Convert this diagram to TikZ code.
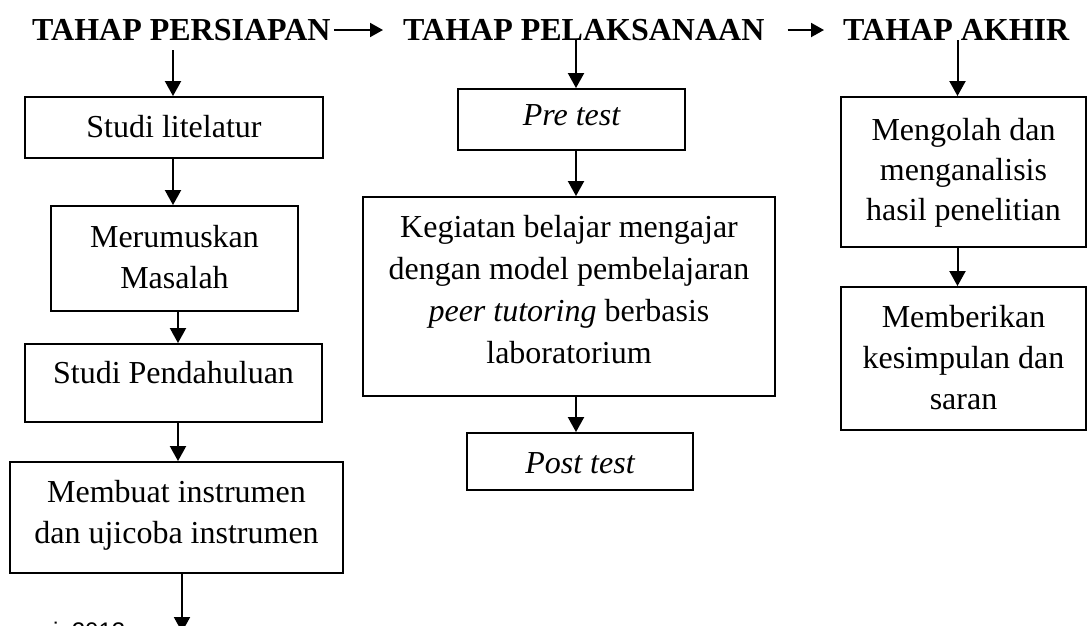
\documentclass[tikz,border=0pt]{standalone}
\usepackage{fontspec}
\setmainfont{Liberation Serif}
\newfontfamily\capfont{Liberation Sans}
\usetikzlibrary{arrows.meta}
\tikzset{
  box/.style={draw=black, line width=1.9pt, rectangle, inner sep=0pt, fill=white},
  txt/.style={anchor=base, inner sep=0pt, align=center, font=\fontsize{32}{41}\selectfont},
  head/.style={anchor=base west, inner sep=0pt, text height=20pt, text depth=0pt, font=\fontsize{32}{40}\selectfont\bfseries},
  arr/.style={line width=2pt, -{Triangle[length=15pt,width=16pt]}}
}
\begin{document}
\begin{tikzpicture}[x=1pt,y=-1pt]
\useasboundingbox (0,0) rectangle (1087,625);
\fill[white] (0,0) rectangle (1087,625);
% headings
\node[head] (h1) at (32,40) {TAHAP PERSIAPAN};
\node[head] (h2) at (403,40) {TAHAP PELAKSANAAN};
\node[head] (h3) at (843,40) {TAHAP AKHIR};
\draw[arr, -{Triangle[length=13pt,width=14pt]}, shorten <=3pt, shorten >=20pt] (h1.east) -- (h2.west);
\draw[arr, -{Triangle[length=13pt,width=14pt]}, shorten <=23pt, shorten >=19pt] (h2.east) -- (h3.west);
% left column boxes
\node[box, minimum width=298pt, minimum height=61pt] (b1) at (174,127.5) {};
\node[box, minimum width=247pt, minimum height=105pt] (b2) at (174.5,258.5) {};
\node[box, minimum width=297pt, minimum height=78pt] (b3) at (173.5,383) {};
\node[box, minimum width=333pt, minimum height=111pt] (b4) at (176.5,517.5) {};
\node[txt] (t1) at (174,137) {Studi litelatur};
\node[txt] (t2) at (174.5,288) {Merumuskan\\Masalah};
\node[txt] (t3) at (173.5,383) {Studi Pendahuluan};
\node[txt] (t4) at (176.5,543) {Membuat instrumen\\dan ujicoba instrumen};
\coordinate (lx1) at (173,0);
\coordinate (lx2) at (178,0);
\coordinate (lx3) at (182,0);
\coordinate (lend) at (182,632);
\draw[arr] (lx1 |- h1.south) ++(0,10) -- (lx1 |- b1.north);
\draw[arr] (lx1 |- b1.south) -- (lx1 |- b2.north);
\draw[arr] (lx2 |- b2.south) -- (lx2 |- b3.north);
\draw[arr] (lx2 |- b3.south) -- (lx2 |- b4.north);
\draw[arr] (lx3 |- b4.south) -- (lend);
% middle column
\node[box, minimum width=227pt, minimum height=61pt] (m1) at (571.5,119.5) {};
\node[box, minimum width=412pt, minimum height=199pt] (m2) at (569,296.5) {};
\node[box, minimum width=226pt, minimum height=57pt] (m3) at (580,461.5) {};
\node[txt] (u1) at (571.5,125) {\itshape Pre test};
\node[txt, font=\fontsize{32}{42}\selectfont] (u2) at (569,363) {Kegiatan belajar mengajar\\dengan model pembelajaran\\\textit{peer tutoring} berbasis\\laboratorium};
\node[txt] (u3) at (580,473) {\itshape Post test};
\coordinate (mx) at (576,0);
\draw[arr] (mx |- h2.south) -- (mx |- m1.north);
\draw[arr] (mx |- m1.south) -- (mx |- m2.north);
\draw[arr] (mx |- m2.south) -- (mx |- m3.north);
% right column
\node[box, minimum width=245pt, minimum height=150pt] (r1) at (963.5,172) {};
\node[box, minimum width=245pt, minimum height=143pt] (r2) at (963.5,358.5) {};
\node[txt, font=\fontsize{32}{40}\selectfont] (v1) at (963.5,220) {Mengolah dan\\menganalisis\\hasil penelitian};
\node[txt] (v2) at (963.5,409) {Memberikan\\kesimpulan dan\\saran};
\coordinate (rx) at (957.5,0);
\draw[arr] (rx |- h3.south) -- (rx |- r1.north);
\draw[arr] (rx |- r1.south) -- (rx |- r2.north);
% cut caption
\node[anchor=base west, inner sep=0pt, font=\capfont\fontsize{24}{28}\selectfont] (cap) at (53,639) {i, 2013};
\end{tikzpicture}
\end{document}
